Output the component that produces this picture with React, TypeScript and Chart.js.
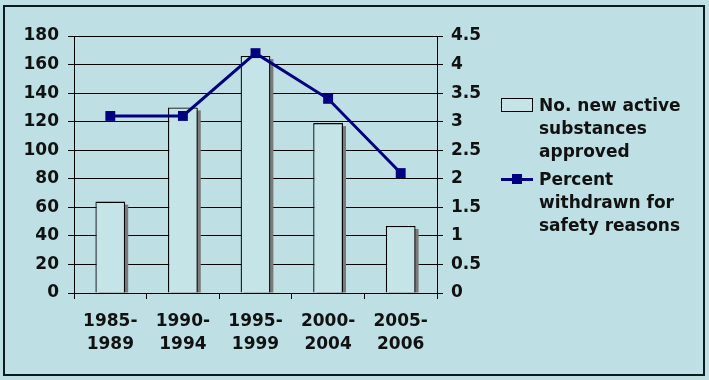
import React, { useEffect, useRef } from "react";
import { Chart, registerables } from "chart.js";

Chart.register(...registerables);

const categories: string[][] = [
  ["1985-", "1989"],
  ["1990-", "1994"],
  ["1995-", "1999"],
  ["2000-", "2004"],
  ["2005-", "2006"],
];
const approvedValues: number[] = [64, 130, 166, 119, 47];
const withdrawnPercent: number[] = [3.1, 3.1, 4.2, 3.4, 2.1];
const approvedLabel = ["No. new active", "substances", "approved"];
const withdrawnLabel = ["Percent", "withdrawn for", "safety reasons"];

const BG = "rgb(190,224,228)";
const BAR_FILL = "rgb(196,228,232)";
const NAVY = "#000080";
const INK = "#111111";
const FONT = "'DejaVu Sans', Arial, sans-serif";

// Grey drop shadow behind each bar, positioned from the bar elements Chart.js computed
const shadowPlugin = {
  id: "barShadow",
  beforeDatasetDraw(chart: any, args: any) {
    if (args.index !== 0) return;
    const ctx = chart.ctx;
    const area = chart.chartArea;
    ctx.save();
    ctx.beginPath();
    ctx.rect(area.left, area.top, area.right - area.left, area.bottom - area.top);
    ctx.clip();
    ctx.fillStyle = "#7a7a7a";
    for (const el of args.meta.data) {
      const p = el.getProps(["x", "y", "base", "width"], true);
      const left = p.x - p.width / 2 + 3;
      const top = p.y + 3;
      ctx.fillRect(left, top, p.width, p.base - top);
    }
    ctx.restore();
  },
};

export default function App() {
  const ref = useRef<HTMLCanvasElement | null>(null);

  useEffect(() => {
    document.body.style.margin = "0";
    const canvas = ref.current;
    if (!canvas) return;
    const tickFont = { family: FONT, size: 17, weight: "bold" as const };
    const chart = new Chart(canvas, {
      type: "bar",
      data: {
        labels: categories,
        datasets: [
          {
            type: "bar",
            label: approvedLabel.join(" "),
            data: approvedValues,
            backgroundColor: BAR_FILL,
            borderColor: "#000",
            borderWidth: 1.3,
            barPercentage: 0.41,
            categoryPercentage: 1,
            yAxisID: "y",
            order: 2,
          },
          {
            type: "line",
            label: withdrawnLabel.join(" "),
            data: withdrawnPercent,
            borderColor: NAVY,
            backgroundColor: NAVY,
            borderWidth: 3,
            pointStyle: "rect",
            pointRadius: 7,
            pointBackgroundColor: NAVY,
            pointBorderColor: NAVY,
            pointBorderWidth: 0,
            yAxisID: "y1",
            order: 1,
          },
        ] as any,
      },
      options: {
        animation: false,
        responsive: false,
        maintainAspectRatio: false,
        layout: { padding: { left: 0, right: 0, top: 36, bottom: 0 } },
        plugins: {
          legend: { display: false },
          tooltip: { enabled: false },
        },
        scales: {
          x: {
            offset: true,
            grid: {
              offset: true,
              drawOnChartArea: false,
              color: "#000",
              tickLength: 6,
              tickColor: "#000",
            },
            border: { color: "#000", width: 1 },
            ticks: {
              color: INK,
              font: { ...tickFont, lineHeight: 23 / 17 },
              padding: 11,
              maxRotation: 0,
              autoSkip: false,
            },
            afterFit: (s: any) => {
              s.height = 380 - 293;
            },
          },
          y: {
            position: "left",
            min: 0,
            max: 180,
            grid: { color: "#000", tickLength: 6, tickColor: "#000", lineWidth: 1 },
            border: { color: "#000", width: 1 },
            ticks: { stepSize: 20, color: INK, font: tickFont, padding: 9 },
            afterFit: (s: any) => {
              s.width = 74;
            },
          },
          y1: {
            position: "right",
            min: 0,
            max: 4.5,
            grid: { drawOnChartArea: false, color: "#000", tickLength: 6, tickColor: "#000" },
            border: { color: "#000", width: 1 },
            ticks: {
              stepSize: 0.5,
              color: INK,
              font: tickFont,
              padding: 8,
              callback: (v: any) => String(Number(v)),
            },
            afterFit: (s: any) => {
              s.width = 709 - 437;
            },
          },
        },
      } as any,
      plugins: [shadowPlugin],
    });
    return () => chart.destroy();
  }, []);

  const textStyle: React.CSSProperties = {
    position: "absolute",
    left: 539,
    fontFamily: FONT,
    fontWeight: "bold",
    fontSize: 17,
    lineHeight: "23px",
    color: INK,
    whiteSpace: "nowrap",
  };

  return (
    <div
      style={{
        position: "fixed",
        left: 0,
        top: 0,
        width: 709,
        height: 380,
        background: BG,
        overflow: "hidden",
      }}
    >
      <div
        style={{
          position: "absolute",
          left: 3,
          top: 5,
          width: 702,
          height: 371,
          boxSizing: "border-box",
          border: "2px solid #0b1a1c",
        }}
      />
      <canvas ref={ref} width={709} height={380} style={{ position: "absolute", left: 0, top: 0, width: 709, height: 380 }} />
      <div
        style={{
          position: "absolute",
          left: 501,
          top: 98,
          width: 32,
          height: 14,
          boxSizing: "border-box",
          border: "1px solid #000",
          background: BAR_FILL,
        }}
      />
      <div style={{ ...textStyle, top: 93.5 }}>
        {approvedLabel.map((l) => (
          <div key={l}>{l}</div>
        ))}
      </div>
      <div style={{ position: "absolute", left: 501, top: 177.5, width: 32, height: 3, background: NAVY }} />
      <div style={{ position: "absolute", left: 512, top: 174, width: 10, height: 10, background: NAVY }} />
      <div style={{ ...textStyle, top: 167.5 }}>
        {withdrawnLabel.map((l) => (
          <div key={l}>{l}</div>
        ))}
      </div>
    </div>
  );
}
